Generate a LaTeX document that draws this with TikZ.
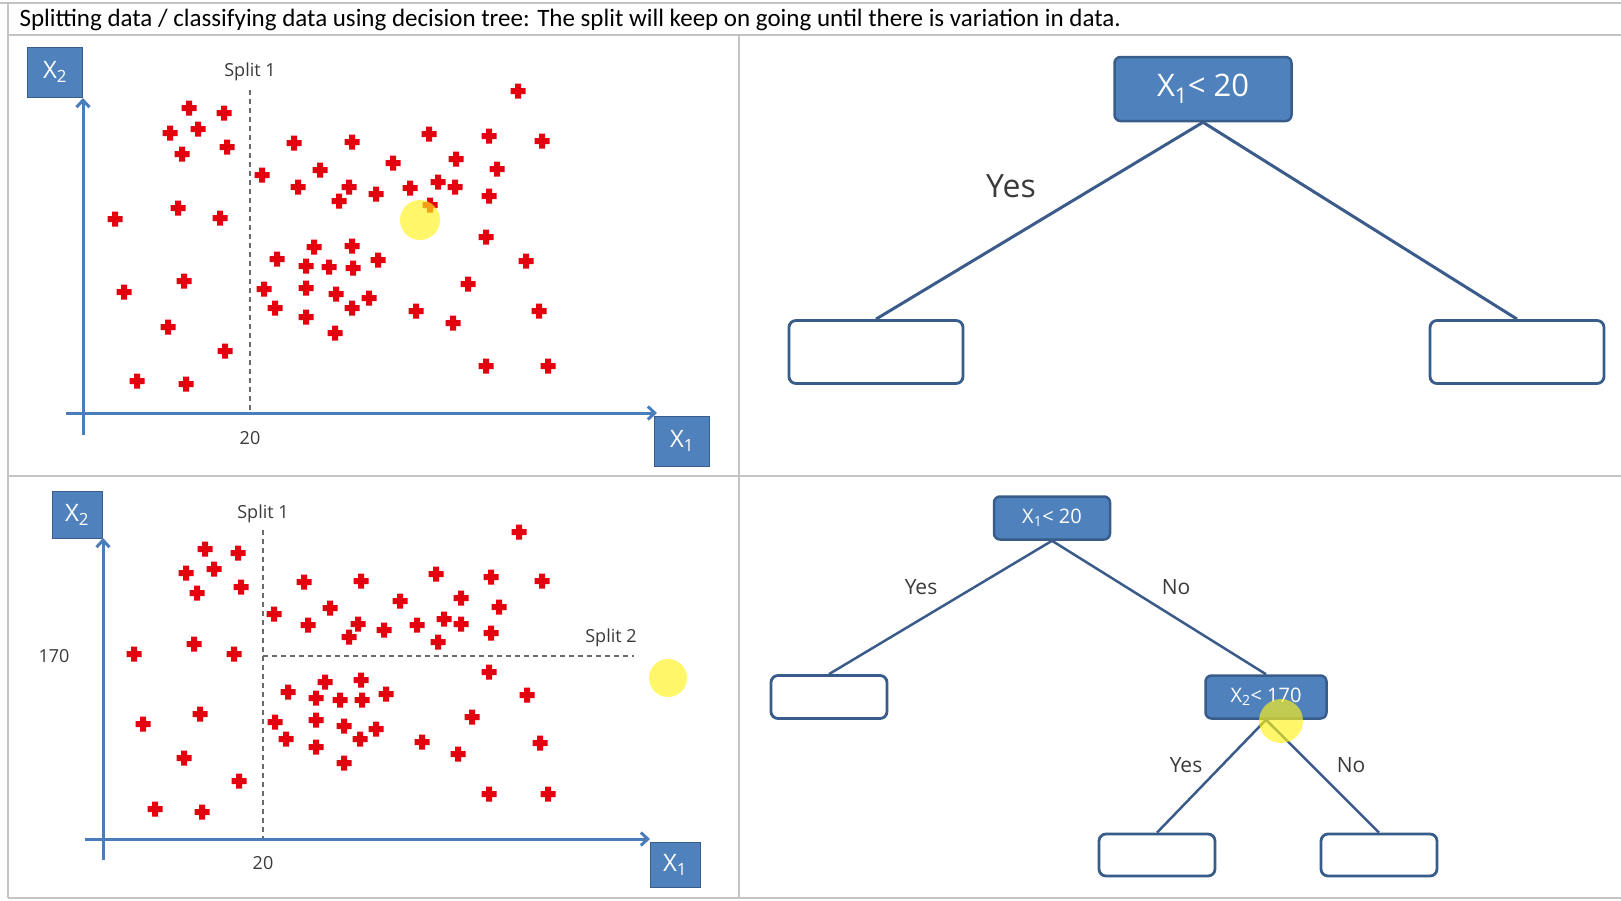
\documentclass[tikz,border=0pt]{standalone}
\usepackage{fontspec}
\setmainfont{Carlito}
\newfontfamily\figfont{Open Sans}
\usepackage{tikz}
\usetikzlibrary{arrows.meta,positioning}
\definecolor{boxblue}{HTML}{4F81BD}
\definecolor{boxedge}{HTML}{385D8A}
\definecolor{axisblue}{HTML}{4A7EBB}
\definecolor{treeline}{HTML}{3B5B8A}
\definecolor{plusred}{HTML}{E3000F}
\definecolor{framegray}{HTML}{C4C4C4}
\definecolor{labelgray}{HTML}{3A3A3A}

\begin{document}
\begin{tikzpicture}[x=1pt, y=-1pt,
  axbox/.style={rectangle, draw=boxedge, fill=boxblue, line width=1pt, text=white,
                inner sep=0pt, font=\figfont\fontsize{24}{24}\selectfont},
  axisarrow/.style={-{Straight Barb[length=7pt,width=13pt]}, line width=3pt, axisblue},
  splitline/.style={dash pattern=on 5pt off 4pt, line width=1.3pt, labelgray!75},
  lbl/.style={text=labelgray, font=\figfont\fontsize{18}{18}\selectfont},
  testnode/.style={rectangle, rounded corners=6pt, draw=boxedge, fill=boxblue,
                   line width=2.5pt, text=white, inner sep=0pt},
  leaf/.style={rectangle, rounded corners=7pt, draw=boxedge, fill=white,
               line width=2.8pt, inner sep=0pt},
  branch/.style={treeline, line width=3pt},
  hilite/.style={fill=yellow!90!white, opacity=0.65},
  redplus/.pic={\fill[plusred] (-7.5,-3) rectangle (7.5,3) (-3,-7.5) rectangle (3,7.5);}
]
\useasboundingbox[fill=white] (0,0) rectangle (1621,900);

% frame
\draw[framegray, line width=2pt] (0,3) -- (1621,3);
\draw[framegray, line width=2pt] (8,3) -- (8,898);
\draw[framegray, line width=1.5pt] (8,35) -- (1621,35);
\draw[framegray, line width=2pt] (739,35) -- (739,898);
\draw[framegray, line width=1.5pt] (8,476) -- (1621,476);
\draw[framegray, line width=2pt] (8,898) -- (1621,898);

\node[anchor=west, text=black, font=\fontsize{25}{25}\selectfont] (title) at (16,20)
  {Splitting data / classifying data using decision tree: The split will keep on going until there is variation in data.};

% first split, scatter
\node[axbox, minimum width=55, minimum height=50] (ytopbox) at (55,72) {X\textsubscript{2}};
\node[axbox, minimum width=55, minimum height=50] (xtopbox) at (682,441) {X\textsubscript{1}};
\draw[axisarrow] (83,435) -- (83,98);
\draw[axisarrow] (66,413) -- (657,413);
\draw[splitline] (250,90) -- (250,413);
\node[lbl] (splittop) at (250,72) {Split 1};
\node[lbl] (twentytop) at (250,438) {20};
\foreach \px/\py in {518/91,189/108,224/113,170/133,198/129,227/147,182/154,294/143,352/142,
  429/134,489/136,542/141,262/175,320/170,393/163,456/159,497/169,298/187,349/187,339/201,
  376/194,410/188,438/182,455/187,489/196,430/205,115/219,178/208,220/218,486/237,277/259,
  314/247,352/246,378/260,306/266,329/267,353/268,526/261,124/292,184/281,264/289,306/288,
  336/294,369/298,275/308,306/317,352/308,468/284,416/311,453/323,539/311,335/333,168/327,
  225/351,137/381,186/384,486/366,548/366}
  \pic at (\px,\py) {redplus};
\fill[hilite] (420,220) circle (20);

% second split, scatter
\node[axbox, minimum width=50, minimum height=47] (ybotbox) at (77,515) {X\textsubscript{2}};
\node[axbox, minimum width=50, minimum height=45] (xbotbox) at (675,865) {X\textsubscript{1}};
\draw[axisarrow] (103,860) -- (103,538);
\draw[axisarrow] (85,839) -- (650,839);
\draw[splitline] (263,530) -- (263,839);
\draw[splitline] (263,656) -- (634,656);
\node[lbl] (splitbot) at (263,514) {Split 1};
\node[lbl] (splittwo) at (611,638) {Split 2};
\node[lbl] (onesevenzero) at (54,656) {170};
\node[lbl] (twentybot) at (263,863) {20};
\foreach \px/\py in {519/532,205/549,238/553,186/573,214/569,241/587,197/593,304/582,361/581,
  436/574,491/577,542/581,274/614,330/608,400/601,461/598,499/607,308/625,358/624,349/637,
  384/630,417/625,444/619,461/624,491/633,438/642,134/654,194/644,234/654,489/672,288/692,
  325/682,361/680,386/694,316/698,340/700,362/700,527/695,143/724,200/714,275/722,316/720,
  344/726,376/729,286/739,316/747,360/739,472/717,422/742,458/754,540/743,344/763,184/758,
  239/781,155/809,202/812,489/794,548/794}
  \pic at (\px,\py) {redplus};
\fill[hilite] (668,678) circle (19);

% first tree
\node[testnode, minimum width=177, minimum height=64,
      font=\figfont\fontsize{31}{31}\selectfont] (roota) at (1203,89) {X\textsubscript{1}< 20};
\node[leaf, minimum width=174, minimum height=63] (yesa) at (876,352) {};
\node[leaf, minimum width=174, minimum height=63] (noa) at (1517,352) {};
\draw[branch] (roota.south) -- (yesa.north);
\draw[branch] (roota.south) -- (noa.north);
\node[lbl, font=\figfont\fontsize{32}{32}\selectfont] (yesla) at (1011,186) {Yes};

% second tree
\node[testnode, minimum width=116, minimum height=43,
      font=\figfont\fontsize{20}{20}\selectfont] (rootb) at (1052,518) {X\textsubscript{1}< 20};
\node[leaf, minimum width=116, minimum height=43] (yesb) at (829,697) {};
\node[testnode, minimum width=121, minimum height=43,
      font=\figfont\fontsize{20}{20}\selectfont] (splitb) at (1266,697) {X\textsubscript{2}< 170};
\node[leaf, minimum width=116, minimum height=42] (yesyes) at (1157,855) {};
\node[leaf, minimum width=116, minimum height=42] (yesno) at (1379,855) {};
\draw[branch, line width=2.5pt] (rootb.south) -- (yesb.north);
\draw[branch, line width=2.5pt] (rootb.south) -- (splitb.north);
\draw[branch, line width=2.5pt] (splitb.south) -- (yesyes.north);
\draw[branch, line width=2.5pt] (splitb.south) -- (yesno.north);
\node[lbl, font=\figfont\fontsize{21}{21}\selectfont] (yeslb) at (921,587) {Yes};
\node[lbl, font=\figfont\fontsize{21}{21}\selectfont] (nolb) at (1176,587) {No};
\node[lbl, font=\figfont\fontsize{21}{21}\selectfont] (yeslc) at (1186,765) {Yes};
\node[lbl, font=\figfont\fontsize{21}{21}\selectfont] (nolc) at (1351,765) {No};
\fill[hilite] (1281,721) circle (22);
\end{tikzpicture}
\end{document}
